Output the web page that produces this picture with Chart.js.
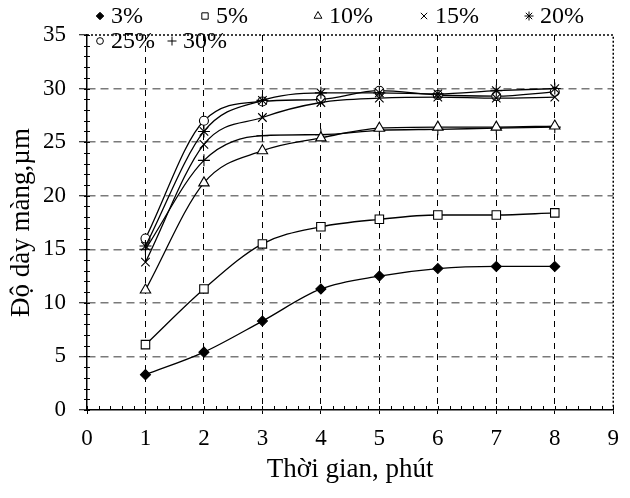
<!DOCTYPE html>
<html lang="vi">
<head>
    <meta charset="UTF-8">
    <title>Độ dày màng theo thời gian</title>
    <script src="https://cdn.jsdelivr.net/npm/chart.js"></script>
    <style>
        html, body { margin: 0; padding: 0; background: #fff; }
        #wrap { width: 630px; height: 498px; position: relative; }
    </style>
</head>
<body>
    <div id="wrap"><canvas id="chart" width="630" height="498"></canvas></div>

    <script>
        // thoi gian (phut)
        const times = [1, 2, 3, 4, 5, 6, 7, 8];
        const seriesNames = ['3%', '5%', '10%', '15%', '20%', '25%', '30%'];

        // do day mang, um
        const s3  = [3.3, 5.4, 8.3, 11.3, 12.5, 13.2, 13.4, 13.4];
        const s5  = [6.1, 11.3, 15.5, 17.1, 17.8, 18.2, 18.2, 18.4];
        const s10 = [11.2, 21.2, 24.2, 25.4, 26.3, 26.4, 26.4, 26.5];
        const s15 = [13.8, 24.8, 27.3, 28.7, 29.1, 29.2, 29.1, 29.2];
        const s20 = [15.3, 26.0, 28.9, 29.6, 29.6, 29.5, 29.8, 30.0];
        const s25 = [16.0, 27.0, 28.8, 29.0, 29.8, 29.4, 29.3, 29.7];
        const s30 = [15.0, 23.3, 25.6, 25.7, 26.1, 26.2, 26.3, 26.4];

        const xTicks = [0, 1, 2, 3, 4, 5, 6, 7, 8, 9];
        const yTicks = [0, 5, 10, 15, 20, 25, 30, 35];

        const allSeries = [s3, s5, s10, s15, s20, s25, s30];
        const styles = [
            { pointStyle: 'rectRot', radius: 5, fill: '#000' },
            { pointStyle: 'rect', radius: 6, fill: '#fff' },
            { pointStyle: 'triangle', radius: 6, fill: '#fff' },
            { pointStyle: 'crossRot', radius: 6, fill: '#fff' },
            { pointStyle: 'star', radius: 6, fill: '#fff' },
            { pointStyle: 'circle', radius: 4.5, fill: '#fff' },
            { pointStyle: 'cross', radius: 6, fill: '#fff' }
        ];

        const datasets = allSeries.map((vals, i) => ({
            label: seriesNames[i],
            data: vals.map((v, j) => ({ x: times[j], y: v })),
            borderColor: '#000',
            borderWidth: 1.3,
            cubicInterpolationMode: 'monotone',
            pointStyle: styles[i].pointStyle,
            pointRadius: styles[i].radius,
            pointBorderColor: '#000',
            pointBackgroundColor: styles[i].fill,
            pointBorderWidth: 1.1,
            fill: false
        }));

        const serif = "'Liberation Serif', 'Times New Roman', serif";

        // legend + minor ticks + dotted frame
        const extras = {
            id: 'extras',
            afterDraw(chart) {
                const ctx = chart.ctx;
                const xs = chart.scales.x, ys = chart.scales.y;
                const a = chart.chartArea;
                ctx.save();

                // dotted top and right frame
                ctx.strokeStyle = '#000';
                ctx.lineWidth = 1.5;
                ctx.setLineDash([2, 2]);
                ctx.beginPath();
                ctx.moveTo(a.left, a.top);
                ctx.lineTo(a.right, a.top);
                ctx.lineTo(a.right, a.bottom);
                ctx.stroke();
                ctx.setLineDash([]);

                // minor ticks
                ctx.lineWidth = 1;
                for (let v = 0; v <= 35; v += 1) {
                    const y = Math.round(ys.getPixelForValue(v)) + 0.5;
                    ctx.beginPath();
                    ctx.moveTo(a.left - 3, y);
                    ctx.lineTo(a.left + 3, y);
                    ctx.stroke();
                }
                for (let k = 0; k <= 45; k++) {
                    const x = Math.round(xs.getPixelForValue(k * 0.2)) + 0.5;
                    ctx.beginPath();
                    ctx.moveTo(x, a.bottom);
                    ctx.lineTo(x, a.bottom - 4);
                    ctx.stroke();
                }

                // legend
                const spots = [
                    [100, 16], [205, 16], [318, 16], [424, 16], [529, 16],
                    [100, 41], [172, 41]
                ];
                ctx.font = '24px ' + serif;
                ctx.textBaseline = 'middle';
                ctx.textAlign = 'left';
                chart.data.datasets.forEach((ds, i) => {
                    const [px, py] = spots[i];
                    ctx.fillStyle = styles[i].fill;
                    ctx.strokeStyle = '#000';
                    ctx.lineWidth = 1;
                    Chart.helpers.drawPoint(ctx, {
                        pointStyle: styles[i].pointStyle,
                        radius: styles[i].radius * 0.75,
                        rotation: 0,
                        borderWidth: 1
                    }, px, py);
                    ctx.fillStyle = '#000';
                    ctx.fillText(ds.label, px + 11, py + 1);
                });
                ctx.restore();
            }
        };

        new Chart(document.getElementById('chart'), {
            type: 'line',
            data: { datasets: datasets },
            options: {
                responsive: false,
                animation: false,
                layout: { padding: { top: 35, right: 0, left: 0, bottom: 0 } },
                plugins: {
                    legend: { display: false },
                    tooltip: { enabled: false }
                },
                scales: {
                    x: {
                        type: 'linear',
                        min: 0,
                        max: 9,
                        afterBuildTicks: s => { s.ticks = xTicks.map(v => ({ value: v })); },
                        afterFit: s => { s.height = 88; },
                        border: { display: true, color: '#000', width: 1.5, dash: [6, 5] },
                        grid: {
                            color: c => (c.tick && c.tick.value > 0 && c.tick.value < 9) ? '#000' : 'rgba(0,0,0,0)',
                            lineWidth: 1,
                            tickColor: '#000',
                            tickLength: 4,
                            tickWidth: 1
                        },
                        ticks: {
                            color: '#000',
                            padding: 11,
                            maxRotation: 0,
                            font: { family: serif, size: 23 }
                        },
                        title: {
                            display: true,
                            text: 'Thời gian, phút',
                            color: '#000',
                            font: { family: serif, size: 27 },
                            padding: { top: 0, bottom: 12 }
                        }
                    },
                    y: {
                        type: 'linear',
                        min: 0,
                        max: 35,
                        afterBuildTicks: s => { s.ticks = yTicks.map(v => ({ value: v })); },
                        afterFit: s => { s.width = 87; },
                        border: { display: true, color: '#000', width: 1.5, dash: [8, 5] },
                        grid: {
                            color: c => (c.tick && c.tick.value > 0 && c.tick.value < 35) ? '#7a7a7a' : 'rgba(0,0,0,0)',
                            lineWidth: 1.5,
                            tickColor: '#000',
                            tickLength: 8,
                            tickWidth: 1
                        },
                        ticks: {
                            color: '#000',
                            padding: 13,
                            font: { family: serif, size: 23 }
                        },
                        title: {
                            display: true,
                            text: 'Độ dày màng,µm',
                            color: '#000',
                            font: { family: serif, size: 27 },
                            padding: { top: 6, bottom: 0 }
                        }
                    }
                }
            },
            plugins: [extras]
        });
    </script>
</body>
</html>
